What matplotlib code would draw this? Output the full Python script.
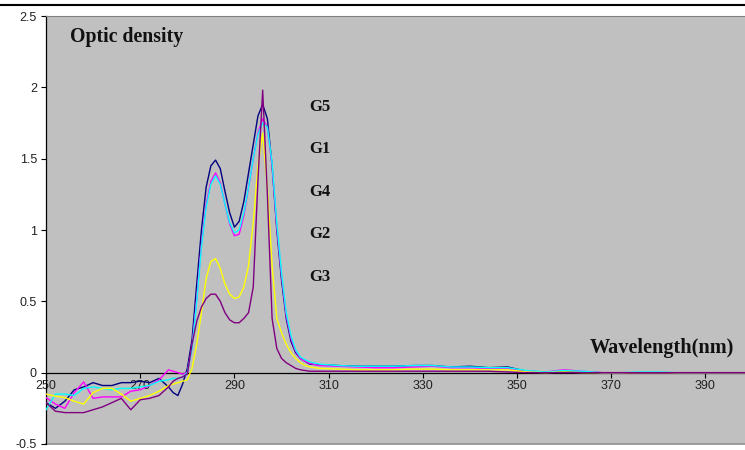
import matplotlib
matplotlib.use("Agg")
import matplotlib.pyplot as plt
from matplotlib.lines import Line2D

# ---------------- data ----------------
wavelength = ([250, 252, 254, 256, 258, 260, 262, 264, 266, 268, 270, 272, 274]
              + list(range(276, 307))
              + list(range(308, 401, 4)))

g5 = ([-0.21, -0.25, -0.20, -0.12, -0.10, -0.07, -0.09, -0.09, -0.07, -0.07, -0.06, -0.07, -0.04]
      + [-0.10, -0.14, -0.16, -0.08, 0.03, 0.23, 0.62, 1.00, 1.30, 1.45, 1.49, 1.43, 1.27, 1.12,
         1.02, 1.06, 1.20, 1.40, 1.60, 1.80, 1.88, 1.78, 1.45, 1.00, 0.65, 0.38, 0.22, 0.14,
         0.10, 0.08, 0.06]
      + [0.055, 0.05, 0.045, 0.045, 0.045, 0.05, 0.05, 0.04, 0.045, 0.035, 0.04, 0.01,
         0.005, 0.01, 0.005, 0, 0, 0, 0, 0, 0, 0, 0, 0])

g1 = ([-0.175, -0.22, -0.25, -0.14, -0.065, -0.18, -0.17, -0.17, -0.17, -0.13, -0.12, -0.09, -0.05]
      + [0.02, 0.01, 0.0, -0.01, 0.0, 0.18, 0.52, 0.90, 1.18, 1.34, 1.40, 1.33, 1.18, 1.04,
         0.96, 0.97, 1.10, 1.30, 1.50, 1.68, 1.78, 1.72, 1.45, 1.02, 0.68, 0.40, 0.24, 0.15,
         0.10, 0.08, 0.065]
      + [0.05, 0.045, 0.04, 0.035, 0.035, 0.04, 0.045, 0.035, 0.035, 0.03, 0.03, 0.01,
         0.005, 0.02, 0.01, 0, 0, 0, 0, 0, 0, 0, 0, 0])

g4 = ([-0.26, -0.15, -0.15, -0.16, -0.11, -0.10, -0.11, -0.12, -0.11, -0.11, -0.10, -0.09, -0.06]
      + [-0.05, -0.04, -0.04, -0.03, 0.0, 0.17, 0.50, 0.88, 1.16, 1.32, 1.38, 1.32, 1.18, 1.05,
         0.98, 1.00, 1.12, 1.30, 1.50, 1.67, 1.75, 1.72, 1.47, 1.05, 0.70, 0.42, 0.26, 0.16,
         0.11, 0.09, 0.075]
      + [0.06, 0.05, 0.045, 0.045, 0.045, 0.05, 0.05, 0.04, 0.04, 0.035, 0.035, 0.015,
         0.005, 0.015, 0.01, 0, 0, 0.005, 0.005, 0, 0, 0, 0, 0])

g2 = ([-0.15, -0.165, -0.175, -0.20, -0.22, -0.14, -0.11, -0.11, -0.15, -0.20, -0.18, -0.16, -0.13]
      + [-0.09, -0.08, -0.07, -0.06, -0.05, 0.03, 0.20, 0.42, 0.66, 0.78, 0.80, 0.73, 0.62, 0.55,
         0.52, 0.53, 0.60, 0.75, 1.05, 1.45, 1.68, 1.30, 0.75, 0.38, 0.28, 0.20, 0.14, 0.10,
         0.07, 0.05, 0.04]
      + [0.03, 0.025, 0.02, 0.02, 0.02, 0.025, 0.025, 0.02, 0.02, 0.02, 0.02, 0.005,
         0, 0.005, 0, 0, 0, 0, 0, 0, 0, 0, 0, 0])

g3 = ([-0.21, -0.27, -0.28, -0.28, -0.28, -0.26, -0.24, -0.21, -0.18, -0.26, -0.19, -0.18, -0.16]
      + [-0.10, -0.06, -0.04, -0.03, -0.01, 0.20, 0.36, 0.46, 0.52, 0.55, 0.55, 0.50, 0.42, 0.37,
         0.35, 0.35, 0.38, 0.42, 0.60, 1.35, 1.98, 1.25, 0.38, 0.17, 0.10, 0.07, 0.05, 0.03,
         0.02, 0.015, 0.01]
      + [0.01, 0.01, 0.01, 0.01, 0.01, 0.01, 0.01, 0.01, 0.01, 0.01, 0.005, 0,
         0, 0, 0, 0, 0, 0, 0, 0, 0, 0, 0, 0])

series_names = ["G5", "G1", "G4", "G2", "G3"]
series_values = [g5, g1, g4, g2, g3]
series_colors = ["#000080", "#ff00ff", "#00ffff", "#ffff00", "#800080"]
label_y = [1.863, 1.566, 1.263, 0.971, 0.670]

x_ticks = [250, 270, 290, 310, 330, 350, 370, 390]
y_ticks = [-0.5, 0, 0.5, 1, 1.5, 2, 2.5]
y_tick_labels = ["-0.5", "0", "0.5", "1", "1.5", "2", "2.5"]

# ---------------- figure ----------------
fig = plt.figure(figsize=(7.45, 4.5), dpi=100)
fig.patch.set_facecolor("white")
ax = fig.add_axes([46 / 745, 1 - 444 / 450, 1 - 46 / 745, (444 - 16) / 450])
ax.set_facecolor("#c0c0c0")

for vals, col in zip(series_values, series_colors):
    ax.plot(wavelength, vals, color=col, lw=1.0, zorder=3)

ax.set_xlim(250, 398.4)
ax.set_ylim(-0.5, 2.5)

ax.spines["bottom"].set_position(("data", 0))
ax.spines["bottom"].set_color("black")
ax.spines["bottom"].set_linewidth(0.9)
ax.spines["left"].set_color("black")
ax.spines["left"].set_linewidth(0.9)
ax.spines["top"].set_color("#808080")
ax.spines["right"].set_visible(False)
ax.axhline(-0.5, color="#909090", lw=1.2, zorder=1, clip_on=False)

ax.set_xticks(x_ticks)
ax.set_xticklabels([str(t) for t in x_ticks])
ax.set_yticks(y_ticks)
ax.set_yticklabels(y_tick_labels)
ax.tick_params(axis="x", direction="out", length=3.5, width=0.8, pad=2,
               labelsize=9, labelcolor="#222222")
ax.tick_params(axis="y", direction="out", length=3.5, width=0.8, pad=3,
               labelsize=9, labelcolor="#222222")
for lab in ax.get_xticklabels() + ax.get_yticklabels():
    lab.set_family("Liberation Sans")

for name, yv in zip(series_names, label_y):
    ax.text(305.8, yv, name, family="Liberation Serif", fontweight="bold",
            fontsize=12, va="center", ha="left", color="#111111")

ax.text(255.1, 2.353, "Optic density", family="Liberation Serif", fontweight="bold",
        fontsize=14.2, va="center", ha="left", color="#111111")
ax.text(365.5, 0.175, "Wavelength(nm)", family="Liberation Serif", fontweight="bold",
        fontsize=14.6, va="center", ha="left", color="#111111")

fig.add_artist(Line2D([0, 1], [1 - 5 / 450, 1 - 5 / 450], transform=fig.transFigure,
                      color="black", lw=1.5))

fig.savefig("out.png", dpi=100)
